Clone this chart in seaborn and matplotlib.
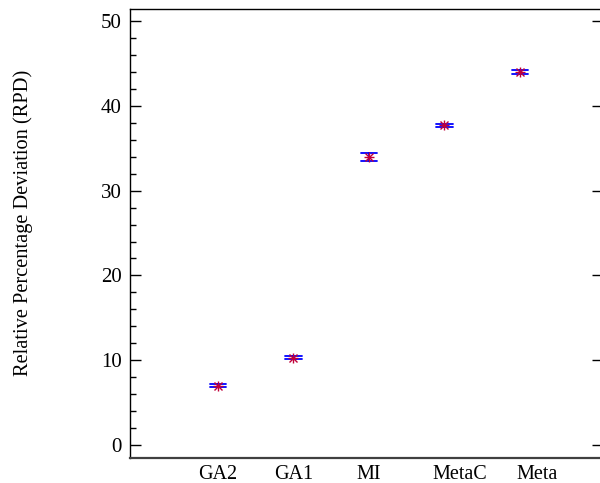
import numpy as np
import pandas as pd
import matplotlib
matplotlib.use("Agg")
import matplotlib.pyplot as plt
from matplotlib.ticker import MultipleLocator
import seaborn as sns

categories = ["GA2", "GA1", "MI", "MetaC", "Meta"]
# low end, centre, high end of each method's RPD interval
ga2 = [6.80, 6.96, 7.15]
ga1 = [10.10, 10.30, 10.55]
mi = [33.50, 33.95, 34.45]
metac = [37.48, 37.70, 37.88]
meta = [43.72, 44.00, 44.22]
y_ticks = [0, 10, 20, 30, 40, 50]

values = [ga2, ga1, mi, metac, meta]
df = pd.DataFrame({
    "method": np.repeat(categories, [len(v) for v in values]),
    "rpd": np.concatenate(values),
})
df["method"] = pd.Categorical(df["method"], categories=categories, ordered=True)

sns.set_theme(style="white")
plt.rcParams["font.family"] = ["Liberation Serif", "DejaVu Serif"]
plt.rcParams["text.color"] = "black"
plt.rcParams["axes.labelcolor"] = "black"
plt.rcParams["xtick.color"] = "black"
plt.rcParams["ytick.color"] = "black"

fig = plt.figure(figsize=(6.0, 4.83), dpi=100)
ax = fig.add_axes([130 / 600, 25 / 483, 473 / 600, 449 / 483])

blue = "#0000ff"
sns.pointplot(data=df, x="method", y="rpd", ax=ax, estimator="median",
              errorbar=("pi", 100), capsize=0.225, color=blue,
              linestyle="none", marker="", err_kws={"linewidth": 1.3})
sns.pointplot(data=df, x="method", y="rpd", ax=ax, estimator="median",
              errorbar=None, color="#c0003a", linestyle="none",
              marker="+", markersize=7, markeredgewidth=1.0)
sns.pointplot(data=df, x="method", y="rpd", ax=ax, estimator="median",
              errorbar=None, color="#c0003a", linestyle="none",
              marker="x", markersize=5.5, markeredgewidth=1.0)

ax.set_xlim(-88 / 75.5, 4 + 83 / 75.5)
ax.set_ylim(-1.53, 51.42)
# the tick labels of the original sit slightly right of the last two marks
label_shift = [0.0, 0.0, 0.0, 0.2, 0.23]
ax.set_xticks([i + d for i, d in enumerate(label_shift)])
ax.set_xticklabels(categories)
ax.set_yticks(y_ticks)
ax.yaxis.set_minor_locator(MultipleLocator(2))
ax.tick_params(axis="y", which="major", direction="in", length=8, width=1,
               color="black", labelsize=15, pad=6, left=True, right=True)
ax.tick_params(axis="y", which="minor", direction="in", length=4, width=1,
               color="black", left=True, right=False)
ax.tick_params(axis="x", which="both", length=0, labelsize=14.5, pad=5)
ax.set_xlabel("")
ax.set_ylabel("Relative Percentage Deviation (RPD)", fontsize=14.7)
ax.yaxis.set_label_coords(-0.206, 0.523)

for s in ["top", "left", "right"]:
    ax.spines[s].set_color("black")
    ax.spines[s].set_linewidth(1.0)
ax.spines["bottom"].set_color("#404040")
ax.spines["bottom"].set_linewidth(1.6)
ax.grid(False)

fig.savefig("out.png", dpi=100)
